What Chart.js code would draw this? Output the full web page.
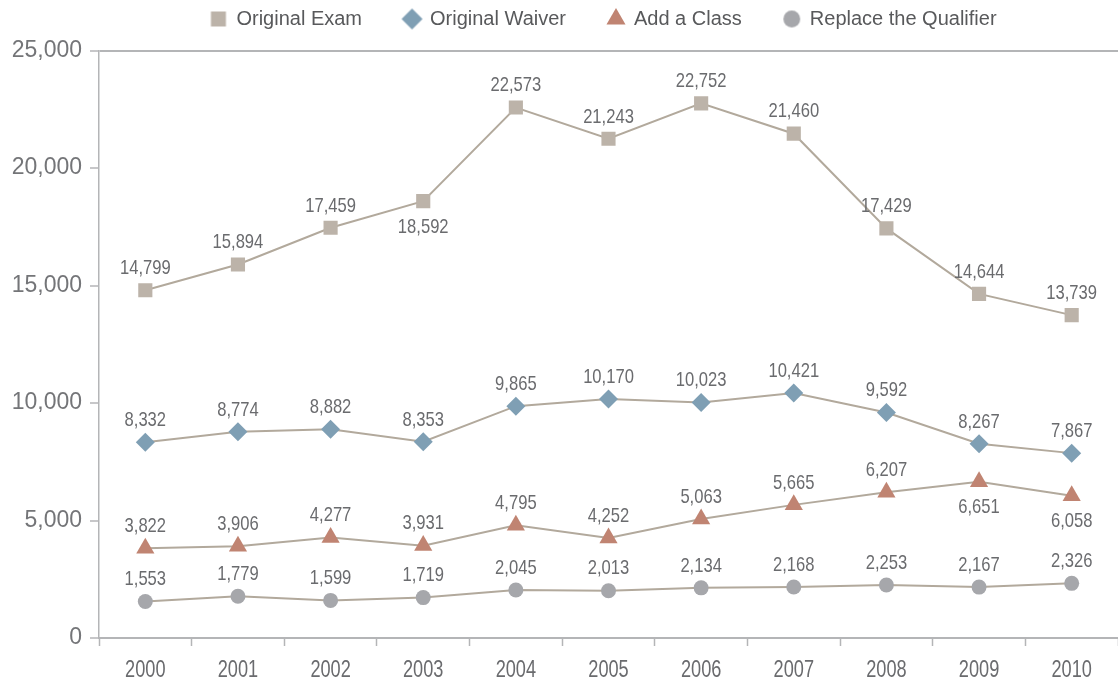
<!DOCTYPE html>
<html>
<head>
<meta charset="utf-8">
<script src="https://cdn.jsdelivr.net/npm/chart.js@4.4.1/dist/chart.umd.min.js"></script>
<style>
  html, body { margin: 0; padding: 0; background: #ffffff; }
  #wrap { width: 1118px; height: 686px; }
</style>
</head>
<body>
<div id="wrap"><canvas id="c" width="1118" height="686"></canvas></div>
<script>
// ---- Data ----
const years = ['2000','2001','2002','2003','2004','2005','2006','2007','2008','2009','2010'];
const originalExam = [14799, 15894, 17459, 18592, 22573, 21243, 22752, 21460, 17429, 14644, 13739];
const originalWaiver = [8332, 8774, 8882, 8353, 9865, 10170, 10023, 10421, 9592, 8267, 7867];
const addAClass = [3822, 3906, 4277, 3931, 4795, 4252, 5063, 5665, 6207, 6651, 6058];
const replaceQualifier = [1553, 1779, 1599, 1719, 2045, 2013, 2134, 2168, 2253, 2167, 2326];
const seriesNames = ['Original Exam', 'Original Waiver', 'Add a Class', 'Replace the Qualifier'];
const yTicks = [0, 5000, 10000, 15000, 20000, 25000];

// ---- Styling (kept separate from data) ----
const lineColor = '#b2a99c';
const axisColor = '#b4b5b7';
const labelColor = '#6a6b6e';
const regularFont = '"Liberation Sans", Arial, Helvetica, sans-serif';
const condense = 0.79;           // horizontal squeeze to mimic a condensed face
// indices of points whose value label sits below the marker
const labelsBelow = { 0: [3], 2: [9, 10] };

const styles = [
  { pointStyle: 'rect', pointRadius: 10, color: '#bcb3a9', legendR: 10.6 },
  { pointStyle: 'rectRot', pointRadius: 9.5, color: '#7f9fb4', legendR: 10.5 },
  { pointStyle: 'triangle', pointRadius: 10.5, color: '#c08472', legendR: 11 },
  { pointStyle: 'circle', pointRadius: 7.5, color: '#a6a7ab', legendR: 8.4 }
];
const seriesData = [originalExam, originalWaiver, addAClass, replaceQualifier];

function markerCanvas(style, r, color) {
  const size = Math.ceil(2 * r + 2);
  const cv = document.createElement('canvas');
  cv.width = size; cv.height = size;
  const g = cv.getContext('2d');
  const c = size / 2;
  g.fillStyle = color;
  g.beginPath();
  if (style === 'rect') {
    const h = r * Math.SQRT1_2;
    g.rect(c - h, c - h, 2 * h, 2 * h);
  } else if (style === 'rectRot') {
    g.moveTo(c, c - r); g.lineTo(c + r, c); g.lineTo(c, c + r); g.lineTo(c - r, c); g.closePath();
  } else if (style === 'triangle') {
    const a = 2 * Math.PI / 3;
    g.moveTo(c, c - r);
    g.lineTo(c + Math.sin(a) * r, c - Math.cos(a) * r);
    g.lineTo(c + Math.sin(2 * a) * r, c - Math.cos(2 * a) * r);
    g.closePath();
  } else {
    g.arc(c, c, r, 0, Math.PI * 2);
  }
  g.fill();
  return cv;
}

const datasets = seriesData.map((data, i) => ({
  label: seriesNames[i],
  data: data,
  borderColor: lineColor,
  borderWidth: 2,
  backgroundColor: styles[i].color,
  pointStyle: styles[i].pointStyle,
  pointRadius: styles[i].pointRadius,
  pointHoverRadius: styles[i].pointRadius,
  pointBackgroundColor: styles[i].color,
  pointBorderWidth: 0,
  pointBorderColor: styles[i].color,
  tension: 0,
  fill: false
}));

const legendMarkers = styles.map(s => markerCanvas(s.pointStyle, s.legendR, s.color));

const legendPadding = 42;
const legendTextCenterY = 19;
const legendShiftX = -5;

const legendTweak = {
  id: 'legendTweak',
  beforeInit(chart) {
    const lg = chart.legend;
    if (lg && !lg._patched) {
      const origFit = lg.fit;
      lg.fit = function () { origFit.call(this); this.height = 50.5; };
      lg._patched = true;
    }
  },
  beforeDraw(chart) {
    const lg = chart.legend;
    if (lg) {
      lg.top = legendTextCenterY - legendPadding - 10;
      lg.left = chart.chartArea.left + legendShiftX;
      lg.right = chart.chartArea.right + legendShiftX;
    }
  }
};

// value labels above / below each marker
const valueLabels = {
  id: 'valueLabels',
  afterDatasetsDraw(chart) {
    const ctx = chart.ctx;
    ctx.save();
    ctx.font = '21px ' + regularFont;
    ctx.fillStyle = labelColor;
    ctx.textAlign = 'center';
    ctx.textBaseline = 'middle';
    chart.data.datasets.forEach((ds, di) => {
      const meta = chart.getDatasetMeta(di);
      const below = labelsBelow[di] || [];
      meta.data.forEach((pt, i) => {
        const txt = ds.data[i].toLocaleString('en-US');
        const y = below.includes(i) ? pt.y + 26 : pt.y - 22;
        ctx.save();
        ctx.translate(pt.x, y);
        ctx.scale(condense, 1);
        ctx.fillText(txt, 0, 0);
        ctx.restore();
      });
    });
    ctx.restore();
  }
};

// category labels of the x axis, placed by the x scale, in a condensed look
const xLabels = {
  id: 'xLabels',
  afterDraw(chart) {
    const sx = chart.scales.x;
    const ctx = chart.ctx;
    ctx.save();
    ctx.font = '23px ' + regularFont;
    ctx.fillStyle = labelColor;
    ctx.textAlign = 'center';
    ctx.textBaseline = 'middle';
    chart.data.labels.forEach((lab, i) => {
      const x = sx.getPixelForTick(i);
      ctx.save();
      ctx.translate(x, sx.top + 33);
      ctx.scale(condense, 1);
      ctx.fillText(lab, 0, 0);
      ctx.restore();
    });
    ctx.restore();
  }
};

new Chart(document.getElementById('c'), {
  type: 'line',
  data: { labels: years, datasets },
  options: {
    responsive: false,
    devicePixelRatio: 1,
    animation: false,
    events: [],
    layout: { padding: 0, autoPadding: false },
    plugins: {
      legend: {
        display: true,
        position: 'top',
        fullSize: false,
        align: 'center',
        labels: {
          usePointStyle: true,
          boxWidth: 16,
          boxHeight: 15,
          padding: legendPadding,
          color: '#58595b',
          font: { family: regularFont, size: 20 },
          generateLabels(chart) {
            return chart.data.datasets.map((ds, i) => ({
              text: ds.label,
              fillStyle: ds.pointBackgroundColor,
              strokeStyle: ds.pointBackgroundColor,
              lineWidth: 0,
              pointStyle: legendMarkers[i],
              hidden: false,
              datasetIndex: i,
              fontColor: '#58595b'
            }));
          }
        }
      },
      tooltip: { enabled: false },
      title: { display: false }
    },
    scales: {
      x: {
        type: 'category',
        offset: true,
        afterFit(s) { s.height = 48; },
        grid: {
          offset: true,
          drawOnChartArea: false,
          drawTicks: true,
          tickLength: 8,
          tickColor: axisColor,
          tickWidth: 1.5
        },
        border: { display: true, color: axisColor, width: 2 },
        ticks: { display: false, autoSkip: false }
      },
      y: {
        min: 0,
        max: 25000,
        afterFit(s) { s.width = 99; },
        afterBuildTicks(s) { s.ticks = yTicks.map(v => ({ value: v })); },
        grid: {
          drawOnChartArea: true,
          color: (c) => (c.tick && c.tick.value === 25000) ? axisColor : 'rgba(0,0,0,0)',
          lineWidth: 2,
          drawTicks: true,
          tickLength: 9,
          tickColor: axisColor,
          tickWidth: 1.5
        },
        border: { display: true, color: axisColor, width: 1.5 },
        ticks: {
          color: '#747578',
          padding: 8,
          font: { family: regularFont, size: 23 },
          callback: (v) => Number(v).toLocaleString('en-US')
        }
      }
    }
  },
  plugins: [legendTweak, valueLabels, xLabels]
});
</script>
</body>
</html>
